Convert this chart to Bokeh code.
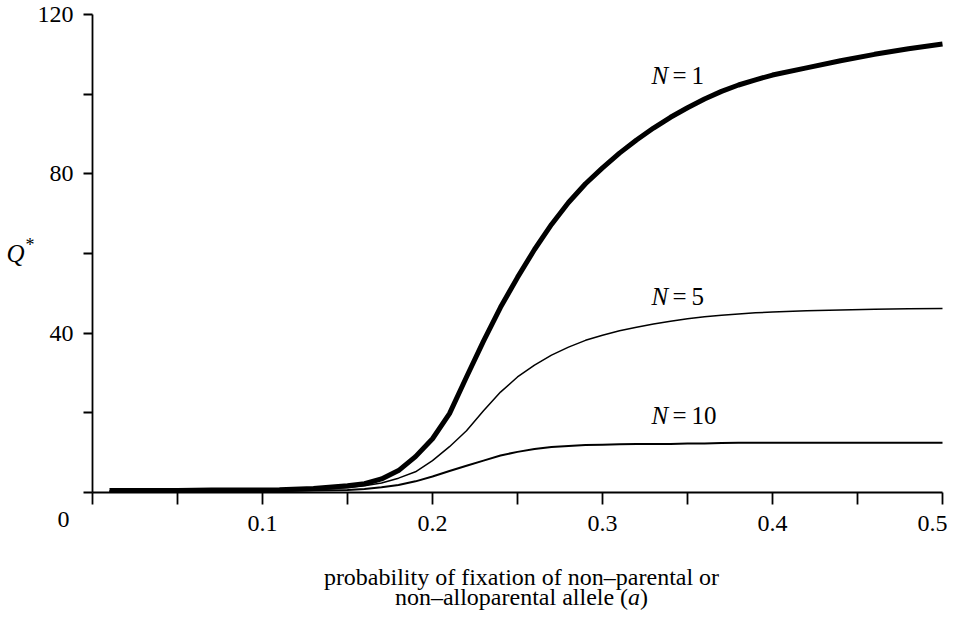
from bokeh.plotting import figure
from bokeh.models import Label, FixedTicker, Range1d
from bokeh.embed import file_html
from bokeh.resources import INLINE

# ---- data ----
a_vals = [0.01, 0.03, 0.05, 0.07, 0.09, 0.11, 0.13,
          0.15, 0.16, 0.17, 0.18, 0.19, 0.20, 0.21, 0.22, 0.23, 0.24, 0.25, 0.26,
          0.27, 0.28, 0.29, 0.30, 0.31, 0.32, 0.33, 0.34, 0.35, 0.36, 0.37, 0.38,
          0.39, 0.40,
          0.42, 0.44, 0.46, 0.48, 0.50]
q_n1 = [0.5, 0.5, 0.5, 0.6, 0.6, 0.7, 1.0,
        1.7, 2.2, 3.4, 5.5, 9.0, 13.5, 19.8, 29.0, 38.0, 46.5, 54.0, 61.0,
        67.3, 72.8, 77.5, 81.5, 85.2, 88.5, 91.5, 94.2, 96.6, 98.8, 100.7, 102.3,
        103.6, 104.8,
        106.6, 108.4, 110.0, 111.4, 112.6]
q_n5 = [0.3, 0.3, 0.4, 0.4, 0.5, 0.6, 0.8,
        1.2, 1.7, 2.4, 3.6, 5.2, 8.0, 11.5, 15.5, 20.5, 25.2, 29.0, 32.0,
        34.5, 36.5, 38.2, 39.5, 40.6, 41.5, 42.3, 43.0, 43.6, 44.1, 44.5, 44.8,
        45.1, 45.3,
        45.6, 45.8, 46.0, 46.1, 46.2]
q_n10 = [0.3, 0.3, 0.3, 0.4, 0.4, 0.4, 0.5,
         0.6, 0.9, 1.3, 1.9, 2.8, 4.0, 5.4, 6.7, 8.0, 9.3, 10.2, 10.9,
         11.4, 11.7, 11.9, 12.0, 12.1, 12.2, 12.2, 12.2, 12.3, 12.3, 12.4, 12.5,
         12.5, 12.5,
         12.5, 12.5, 12.5, 12.5, 12.5]

x_major = [0.1, 0.2, 0.3, 0.4, 0.5]
x_minor = [0.0, 0.05, 0.15, 0.25, 0.35, 0.45]
y_major = [40, 80, 120]
y_minor = [0, 20, 60, 100]

curve_labels = ["1", "5", "10"]
curve_label_y = [104.7, 49.2, 19.3]

FONT = "Liberation Serif"
FS = "24px"

# frame fills the whole canvas; axes are pinned at the data origin
p = figure(width=947, height=613,
           x_range=Range1d(-0.054118, 0.502941), y_range=Range1d(-30.377, 123.515),
           output_backend="svg", toolbar_location=None,
           min_border_left=0, min_border_right=0, min_border_top=0, min_border_bottom=0)
p.title.visible = False
p.outline_line_color = None
p.grid.visible = False
p.background_fill_color = "white"
p.border_fill_color = "white"

p.line(a_vals, q_n1, line_color="black", line_width=5, line_join="round")
p.line(a_vals, q_n5, line_color="black", line_width=1.5, line_join="round")
p.line(a_vals, q_n10, line_color="black", line_width=2, line_join="round")

for ax in (p.xaxis[0], p.yaxis[0]):
    ax.axis_line_color = "black"
    ax.axis_line_width = 1.8
    ax.major_tick_line_color = "black"
    ax.minor_tick_line_color = "black"
    ax.major_tick_line_width = 1.8
    ax.minor_tick_line_width = 1.8
    ax.major_tick_in = 0
    ax.minor_tick_in = 0
    ax.major_label_text_font = FONT
    ax.major_label_text_font_size = FS
    ax.major_label_text_color = "black"
    ax.fixed_location = 0

p.xaxis[0].bounds = (0, 0.5)
p.xaxis[0].ticker = FixedTicker(ticks=x_major, minor_ticks=x_minor)
p.xaxis[0].major_tick_out = 12
p.xaxis[0].minor_tick_out = 12
p.xaxis[0].major_label_standoff = 12

p.yaxis[0].bounds = (0, 120)
p.yaxis[0].ticker = FixedTicker(ticks=y_major, minor_ticks=y_minor)
p.yaxis[0].major_tick_out = 9
p.yaxis[0].minor_tick_out = 9
p.yaxis[0].major_label_standoff = 10


def lab(x, y, text, style="normal", size=FS, align="left"):
    p.add_layout(Label(x=x, y=y, text=text, text_font=FONT, text_font_size=size,
                       text_font_style=style, text_color="black",
                       text_align=align, text_baseline="middle"))


# origin label
lab(-0.01706, -6.8, "0", align="center")

# y axis title Q*
lab(-0.05059, 60.0, "Q", style="italic", size="25px")
lab(-0.0394, 62.2, "*", size="18px")

# curve labels N = ...
for t, yy in zip(curve_labels, curve_label_y):
    lab(0.32882, yy, "N", style="italic", size="25px")
    lab(0.34118, yy, "=\u2009" + t, size="25px")

# x axis title (two lines, italic a)
lab(0.25235, -21.09, "probability of fixation of non\u2013parental or", align="center")
x_end = 0.32682
lab(x_end, -26.11, ")", align="right")
lab(x_end - 0.0047, -26.11, "a", style="italic", align="right")
lab(x_end - 0.0047 - 0.00706, -26.11, "non\u2013alloparental allele (", align="right")

open("out.html", "w").write(file_html(p, INLINE))
